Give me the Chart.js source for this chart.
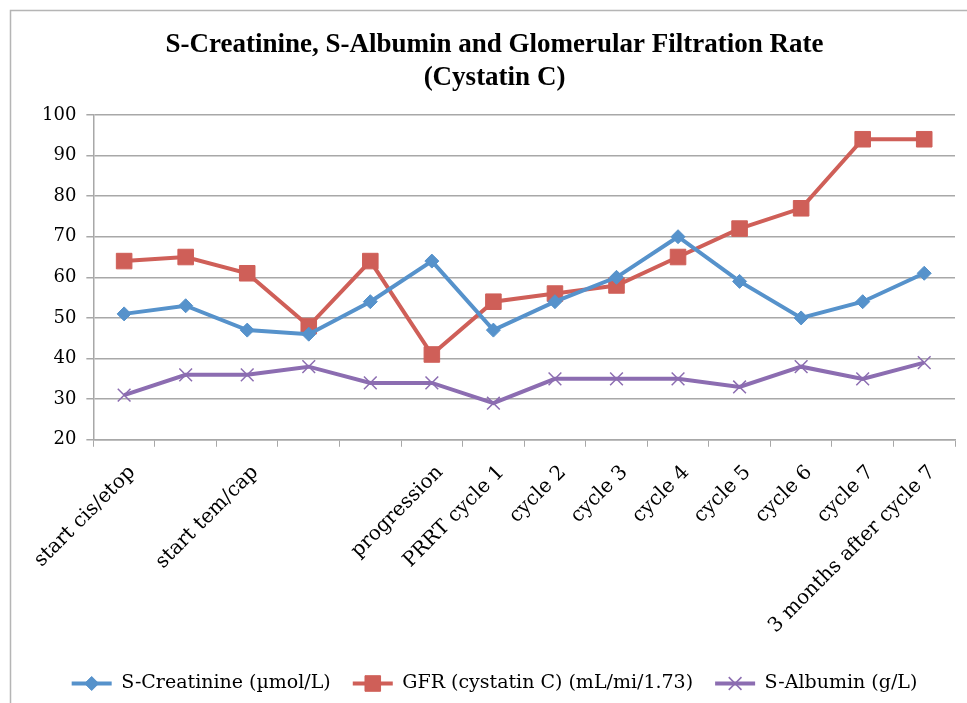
<!DOCTYPE html>
<html>
<head>
<meta charset="utf-8">
<script src="https://cdn.jsdelivr.net/npm/chart.js@4/dist/chart.umd.min.js"></script>
<style>
html,body{margin:0;padding:0;background:#fff;}
#wrap{width:967px;height:703px;position:relative;}
</style>
</head>
<body>
<div id="wrap"><canvas id="c" width="967" height="703"></canvas></div>
<script>
const categories = ["start cis/etop", "", "start tem/cap", "", "", "progression", "PRRT cycle 1", "cycle 2", "cycle 3", "cycle 4", "cycle 5", "cycle 6", "cycle 7", "3 months after cycle 7"];
const creatinine = [51, 53, 47, 46, 54, 64, 47, 54, 60, 70, 59, 50, 54, 61];
const gfr = [64, 65, 61, 48, 64, 41, 54, 56, 58, 65, 72, 77, 94, 94];
const albumin = [31, 36, 36, 38, 34, 34, 29, 35, 35, 35, 33, 38, 35, 39];
const seriesNames = ["S-Creatinine (µmol/L)", "GFR (cystatin C) (mL/mi/1.73)", "S-Albumin (g/L)"];
const yTicks = [20, 30, 40, 50, 60, 70, 80, 90, 100];

const BLUE = "#5692CB", RED = "#CF5F58", PURPLE = "#8C6DB1";
const TFONT = "'Liberation Serif', serif";
const FONT = "'DejaVu Serif', serif";

const bgBorder = {
  id: 'bgBorder',
  beforeDraw(chart) {
    const ctx = chart.ctx;
    ctx.save();
    ctx.fillStyle = '#fff';
    ctx.fillRect(0, 0, chart.width, chart.height);
    ctx.strokeStyle = '#b5b5b5';
    ctx.lineWidth = 1.5;
    ctx.strokeRect(10.5, 10.5, 1100, 1100);
    ctx.restore();
  }
};

const legendMarkers = {
  id: 'legendMarkers',
  afterDraw(chart) {
    const lg = chart.legend;
    if (!lg || !lg.legendHitBoxes) return;
    const ctx = chart.ctx;
    lg.legendHitBoxes.forEach((hb, i) => {
      const ds = chart.data.datasets[i];
      const bw = lg.options.labels.boxWidth;
      const cx = hb.left + bw / 2;
      const cy = hb.top + hb.height / 2;
      ctx.save();
      ctx.strokeStyle = ds.borderColor;
      ctx.fillStyle = ds.borderColor;
      ctx.lineWidth = 4;
      ctx.beginPath();
      ctx.moveTo(hb.left, cy);
      ctx.lineTo(hb.left + bw, cy);
      ctx.stroke();
      ctx.lineWidth = ds.pointBorderWidth;
      Chart.helpers.drawPoint(ctx, {
        pointStyle: ds.pointStyle,
        rotation: 0,
        borderWidth: ds.pointBorderWidth,
        radius: ds.pointRadius
      }, cx, cy);
      ctx.restore();
    });
  }
};

function ds(label, data, color, style, radius, bw) {
  return {
    label, data,
    borderColor: color,
    backgroundColor: color,
    pointBackgroundColor: color,
    pointBorderColor: color,
    pointStyle: style,
    pointRadius: radius,
    pointHoverRadius: radius,
    pointBorderWidth: bw,
    borderWidth: 4,
    tension: 0,
    fill: false
  };
}

new Chart(document.getElementById('c'), {
  type: 'line',
  data: {
    labels: categories,
    datasets: [
      ds(seriesNames[0], creatinine, BLUE, 'rectRot', 7, 1),
      ds(seriesNames[1], gfr, RED, 'rect', 11, 1),
      ds(seriesNames[2], albumin, PURPLE, 'crossRot', 9, 1.5)
    ]
  },
  options: {
    responsive: false,
    devicePixelRatio: 1,
    animation: false,
    layout: { padding: { left: 32, right: 10, top: 0, bottom: 0 } },
    plugins: {
      title: {
        display: true,
        text: ["S-Creatinine, S-Albumin and Glomerular Filtration Rate", "(Cystatin C)"],
        color: '#000',
        font: { family: TFONT, size: 27, weight: 'bold', lineHeight: 1.22 },
        padding: { top: 29, bottom: 20 }
      },
      legend: {
        position: 'bottom',
        labels: {
          boxWidth: 40,
          boxHeight: 0,
          color: '#000',
          font: { family: FONT, size: 19 },
          padding: 22,
          generateLabels(chart) {
            return chart.data.datasets.map((d, i) => ({
              text: d.label,
              fillStyle: 'rgba(0,0,0,0)',
              strokeStyle: 'rgba(0,0,0,0)',
              lineWidth: 0,
              fontColor: '#000',
              datasetIndex: i,
              hidden: false
            }));
          }
        }
      },
      tooltip: { enabled: false }
    },
    scales: {
      x: {
        offset: true,
        grid: { offset: true, drawOnChartArea: false, color: '#a8a8a8', tickLength: 7, lineWidth: 1 },
        border: { color: '#a8a8a8', width: 1.5 },
        ticks: {
          autoSkip: false,
          minRotation: 45,
          maxRotation: 45,
          color: '#000',
          font: { family: FONT, size: 20 },
          padding: 14,
          labelOffset: 8
        }
      },
      y: {
        min: 20,
        max: 100,
        afterBuildTicks(axis) { axis.ticks = yTicks.map(v => ({ value: v })); },
        grid: { color: '#a8a8a8', tickLength: 7, lineWidth: 1.5 },
        border: { color: '#a8a8a8', width: 1.5 },
        ticks: {
          color: '#000',
          font: { family: FONT, size: 18 },
          padding: 10
        }
      }
    }
  },
  plugins: [bgBorder, legendMarkers]
});
</script>
</body>
</html>
